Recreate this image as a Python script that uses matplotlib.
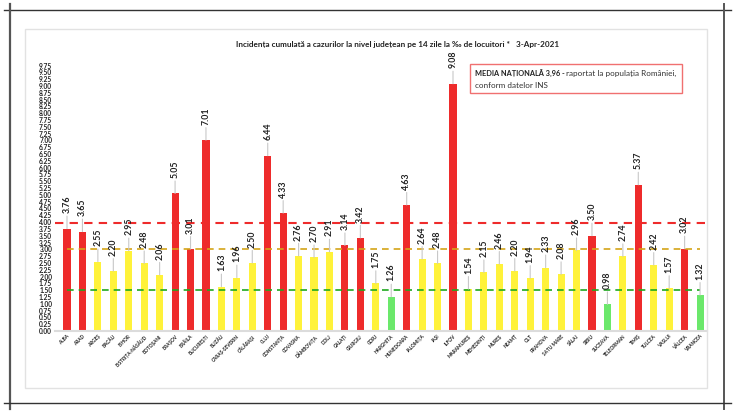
import matplotlib
matplotlib.use("Agg")
import matplotlib.pyplot as plt
from matplotlib.lines import Line2D
from matplotlib.patches import Rectangle
import numpy as np

plt.rcParams['font.family'] = ['Lato', 'DejaVu Sans']

counties = ["ALBA", "ARAD", "ARGEȘ", "BACĂU", "BIHOR", "BISTRIȚA-NĂSĂUD", "BOTOȘANI",
            "BRAȘOV", "BRĂILA", "BUCUREȘTI", "BUZĂU", "CARAȘ-SEVERIN", "CĂLĂRAȘI", "CLUJ",
            "CONSTANȚA", "COVASNA", "DÂMBOVIȚA", "DOLJ", "GALAȚI", "GIURGIU", "GORJ",
            "HARGHITA", "HUNEDOARA", "IALOMIȚA", "IAȘI", "ILFOV", "MARAMUREȘ", "MEHEDINȚI",
            "MUREȘ", "NEAMȚ", "OLT", "PRAHOVA", "SATU MARE", "SĂLAJ", "SIBIU", "SUCEAVA",
            "TELEORMAN", "TIMIȘ", "TULCEA", "VASLUI", "VÂLCEA", "VRANCEA"]
values = [3.76, 3.65, 2.55, 2.20, 2.95, 2.48, 2.06, 5.05, 3.01, 7.01, 1.63, 1.96, 2.50,
          6.44, 4.33, 2.76, 2.70, 2.91, 3.14, 3.42, 1.75, 1.26, 4.63, 2.64, 2.48, 9.08,
          1.54, 2.15, 2.46, 2.20, 1.94, 2.33, 2.08, 2.96, 3.50, 0.98, 2.74, 5.37, 2.42,
          1.57, 3.02, 1.32]
national_avg = 3.96
threshold_high = 3.0
threshold_low = 1.5
yticks = np.arange(0, 10.0, 0.25)

RED = "#EE2B2B"
YELLOW = "#FFF23A"
GREEN = "#6BE86B"

def color_for(v):
    if v > threshold_high:
        return RED
    if v >= threshold_low:
        return YELLOW
    return GREEN

W, H = 735, 413
fig = plt.figure(figsize=(W / 100, H / 100), dpi=100)

left_px, right_px, bottom_px, top_px = 55, 707, 331, 58.7
ax = fig.add_axes([left_px / W, 1 - bottom_px / H, (right_px - left_px) / W, (bottom_px - top_px) / H])

x = np.arange(len(counties))
colors = [color_for(v) for v in values]
ax.bar(x, values, width=0.46, color=colors, zorder=2)

ax.set_xlim(-0.777, 41.45)
ax.set_ylim(0, 10)

ax.axhline(national_avg, color="#EE2B2B", lw=1.5, ls=(0, (4, 3)), zorder=3)
ax.hlines(threshold_high, x[0], x[-1], color="#D4A418", lw=1.2, ls=(0, (4, 3)), zorder=3)
ax.hlines(threshold_low, x[0], x[-1], color="#1FA81F", lw=1.2, ls=(0, (4, 3)), zorder=3)

for xi, v in zip(x, values):
    ax.annotate(f"{v:.2f}", xy=(xi, v), xytext=(0, 11), textcoords="offset points",
                rotation=90, ha="center", va="bottom", fontsize=6.3, fontweight="bold",
                color="#222222",
                arrowprops=dict(arrowstyle="-", color="#c8c8c8", lw=0.8,
                                shrinkA=0, shrinkB=0), zorder=4)

ax.set_yticks(yticks)
ax.set_yticklabels([f"{t:.2f}" for t in yticks], fontsize=4.8, fontweight="bold", color="#222222")
ax.set_xticks(x)
ax.set_xticklabels(counties, rotation=45, ha="right", rotation_mode="anchor",
                   fontsize=3.4, fontweight="bold", color="#222222")
ax.tick_params(axis="both", length=0, pad=2)
for s in ["top", "right", "left"]:
    ax.spines[s].set_visible(False)
ax.spines["bottom"].set_color("#dcdcdc")
ax.spines["bottom"].set_linewidth(1.5)

fig.text(398 / W, 1 - 44 / H,
         "Incidența cumulată a cazurilor la nivel județean pe 14 zile la ‰ de locuitori *   3-Apr-2021",
         ha="center", va="center", fontsize=5.9, fontweight="bold", color="#222222")

fig.patches.append(Rectangle((470 / W, 1 - 93 / H), (682 - 470) / W, (93 - 64) / H,
                             transform=fig.transFigure, fill=False, ec="#F07070", lw=1.0))
t1 = fig.text(475 / W, 1 - 73 / H, "MEDIA NAȚIONALĂ 3,96 - ", ha="left", va="center",
              fontsize=5.3, fontweight="bold", color="#222222")
fig.canvas.draw()
bb = t1.get_window_extent()
fig.text(bb.x1 / W, 1 - 73 / H, "raportat la populația României,", ha="left", va="center",
         fontsize=5.9, color="#333333")
fig.text(475 / W, 1 - 85 / H, "conform datelor INS", ha="left", va="center",
         fontsize=5.9, color="#333333")

fig.patches.append(Rectangle((25 / W, 1 - 388 / H), (707 - 25) / W, (388 - 29) / H,
                             transform=fig.transFigure, fill=False, ec="#e2e2e2", lw=1.0))

def fline(x0, y0, x1, y1, c="#333333", lw=1.0):
    fig.add_artist(Line2D([x0 / W, x1 / W], [1 - y0 / H, 1 - y1 / H],
                          transform=fig.transFigure, color=c, lw=lw))

fline(4, 10, 731, 10)
fline(9.5, 4, 9.5, 409, c="#555555", lw=1.6)
fline(724, 4, 724, 409, c="#555555", lw=1.4)
fline(4, 403, 731, 403)

fig.savefig("out.png", dpi=100)
